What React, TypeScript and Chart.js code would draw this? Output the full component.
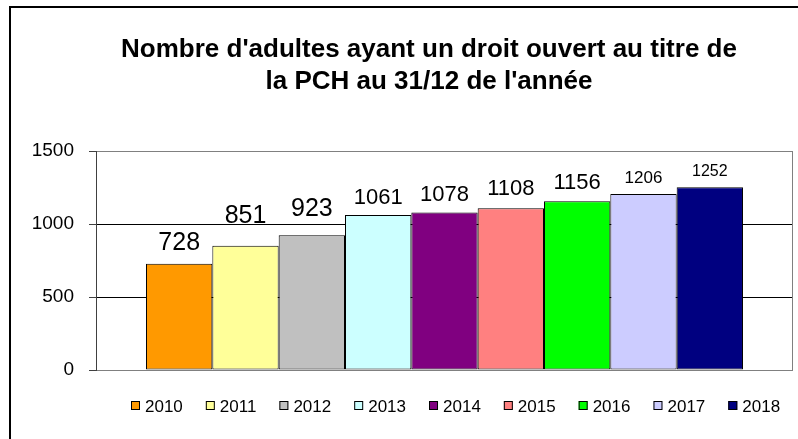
import React, { useEffect, useRef } from 'react';
import { Chart, registerables } from 'chart.js';

Chart.register(...registerables);

const TITLE_LINES = ["Nombre d'adultes ayant un droit ouvert au titre de", "la PCH au 31/12 de l'année"];
const YEARS = ['2010', '2011', '2012', '2013', '2014', '2015', '2016', '2017', '2018'];
const VALUES = [728, 851, 923, 1061, 1078, 1108, 1156, 1206, 1252];
const COLORS = ['#FF9900', '#FFFF99', '#C0C0C0', '#CCFFFF', '#800080', '#FF8080', '#00FF00', '#CCCCFF', '#000080'];
const Y_TICKS = [0, 500, 1000, 1500];

// styling (not data)
const FONT = '"Liberation Sans", Arial, Helvetica, sans-serif';
const LABEL_SIZES = [25, 25, 25, 22, 22, 22, 22, 17, 16];
const LABEL_GAPS = [14, 23, 19, 11, 12, 13, 12, 11, 11.5];

const decorPlugin = {
  id: 'decor',
  beforeDraw(chart: any) {
    const ctx = chart.ctx;
    ctx.save();
    ctx.fillStyle = '#ffffff';
    ctx.fillRect(0, 0, chart.width, chart.height);
    ctx.strokeStyle = '#000000';
    ctx.lineWidth = 2;
    ctx.beginPath();
    ctx.moveTo(10, chart.height + 4);
    ctx.lineTo(10, 7);
    ctx.lineTo(chart.width + 4, 7);
    ctx.stroke();
    ctx.restore();
  },
  afterDatasetsDraw(chart: any) {
    const ctx = chart.ctx;
    ctx.save();
    ctx.fillStyle = '#000000';
    ctx.textAlign = 'center';
    ctx.textBaseline = 'alphabetic';
    chart.data.datasets.forEach((ds: any, i: number) => {
      const meta = chart.getDatasetMeta(i);
      const el = meta.data[0];
      if (!el) return;
      ctx.font = `${LABEL_SIZES[i]}px ${FONT}`;
      ctx.fillText(String(ds.data[0]), el.x, el.y - LABEL_GAPS[i]);
    });
    ctx.restore();
  },
  afterDraw(chart: any) {
    const ctx = chart.ctx;
    const { right, top, bottom } = chart.chartArea;
    ctx.save();
    // right border of plot area
    ctx.strokeStyle = '#808080';
    ctx.lineWidth = 1;
    ctx.beginPath();
    ctx.moveTo(right - 0.5, top + 0.5);
    ctx.lineTo(right - 0.5, bottom + 0.5);
    ctx.stroke();

    // title
    ctx.fillStyle = '#000000';
    ctx.textAlign = 'center';
    ctx.textBaseline = 'alphabetic';
    ctx.font = `bold 26px ${FONT}`;
    ctx.fillText(TITLE_LINES[0], 429, 57);
    ctx.fillText(TITLE_LINES[1], 429, 89);

    // legend
    ctx.font = `17px ${FONT}`;
    ctx.textAlign = 'left';
    const box = 9;
    const gap = 5;
    const spacing = 23;
    const items = chart.data.datasets.map((ds: any) => ({
      label: ds.label,
      color: ds.backgroundColor,
      w: box + gap + ctx.measureText(ds.label).width,
    }));
    const total = items.reduce((s: number, it: any) => s + it.w, 0) + spacing * (items.length - 1);
    let x = Math.round(456 - total / 2);
    const boxTop = 401;
    items.forEach((it: any) => {
      ctx.fillStyle = it.color;
      ctx.fillRect(x, boxTop, box, box);
      ctx.strokeStyle = '#000000';
      ctx.lineWidth = 1;
      ctx.strokeRect(x + 0.5, boxTop + 0.5, box - 1, box - 1);
      ctx.fillStyle = '#000000';
      ctx.fillText(it.label, x + box + gap, 412);
      x += it.w + spacing;
    });
    ctx.restore();
  },
};

export default function App() {
  const ref = useRef<HTMLCanvasElement | null>(null);

  useEffect(() => {
    if (!ref.current) return;
    const chart = new Chart(ref.current, {
      type: 'bar',
      data: {
        labels: [''],
        datasets: YEARS.map((y, i) => ({
          label: y,
          data: [VALUES[i]],
          backgroundColor: COLORS[i],
          borderColor: '#000000',
          borderWidth: 1,
          borderSkipped: false,
          categoryPercentage: 0.8565,
          barPercentage: 1,
        })),
      },
      options: {
        responsive: false,
        animation: false,
        events: [],
        layout: { padding: { left: 26, top: 151, right: 5, bottom: 69 } },
        plugins: {
          legend: { display: false },
          title: { display: false },
          tooltip: { enabled: false },
        },
        scales: {
          x: {
            type: 'category',
            display: false,
            grid: { display: false },
          },
          y: {
            type: 'linear',
            min: 0,
            max: 1500,
            afterFit: (scale: any) => {
              scale.width = 70;
            },
            afterBuildTicks: (scale: any) => {
              scale.ticks = Y_TICKS.map((v) => ({ value: v }));
            },
            border: { display: true, color: '#404040', width: 1 },
            grid: {
              color: (c: any) => (c.tick && (c.tick.value === 500 || c.tick.value === 1000) ? '#000000' : '#808080'),
              tickColor: '#404040',
              tickLength: 7,
              lineWidth: 1,
            },
            ticks: {
              padding: 15,
              color: '#000000',
              font: { family: FONT, size: 19 },
              callback: (v: any) => String(v),
            },
          },
        },
      },
      plugins: [decorPlugin],
    } as any);
    return () => chart.destroy();
  }, []);

  return (
    <div style={{ position: 'fixed', left: 0, top: 0, width: 798, height: 439, background: '#fff' }}>
      <canvas ref={ref} width={798} height={439} style={{ display: 'block', width: 798, height: 439 }} />
    </div>
  );
}
